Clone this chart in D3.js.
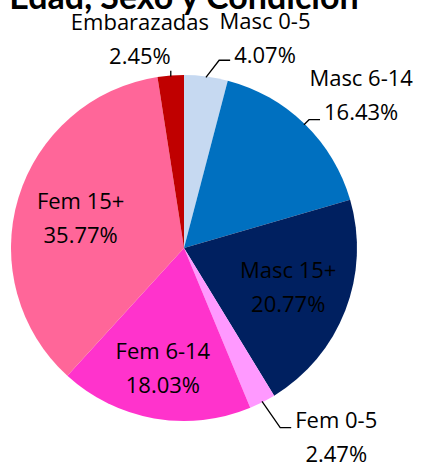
<!DOCTYPE html>
<html>
<head>
<meta charset="utf-8">
<title>Edad, Sexo y Condición</title>
<style>
    body { margin: 0; background: #fff; }
    svg { font-family: "Open Sans", Lato, sans-serif; }
</style>
</head>
<body>
<svg width="425" height="466"></svg>
<script src="https://d3js.org/d3.v7.min.js"></script>
<script>
    // data
    var categories = ["Masc 0-5", "Masc 6-14", "Masc 15+", "Fem 0-5", "Fem 6-14", "Fem 15+", "Embarazadas"];
    var values = [4.07, 16.43, 20.77, 2.47, 18.03, 35.77, 2.45];
    var colors = ["#C6D9F1", "#0070C0", "#002060", "#FF99FF", "#FF33CC", "#FF6699", "#C00000"];

    // label placement: [angle (deg, clockwise from top), radius, leader type]
    var labelPlace = [
        [21.3, 223, "right"],
        [49.5, 233, "right"],
        [111.5, 112, null],
        [141.4, 244, "right1"],
        [189.8, 124, null],
        [285, 107, null],
        [348, 212, "down"]
    ];

    var svg = d3.select("svg"),
        cx = 184, cy = 248, radius = 173,
        fontSize = 22, lineGap = 34;

    svg.append("text")
        .attr("x", cx)
        .attr("y", 9)
        .attr("text-anchor", "middle")
        .style("font-family", "Lato, sans-serif")
        .style("font-weight", "bold")
        .style("font-size", "34px")
        .text("Edad, Sexo y Condición");

    var pie = d3.pie().sort(null).value(function(d) { return d; });
    var arcs = pie(values);
    var arc = d3.arc().innerRadius(0).outerRadius(radius);

    var g = svg.append("g").attr("transform", "translate(" + cx + "," + cy + ")");

    g.selectAll("path")
        .data(arcs)
        .enter().append("path")
        .attr("d", arc)
        .attr("fill", function(d, i) { return colors[i]; });

    function polar(angle, r) {
        var a = angle * Math.PI / 180;
        return [r * Math.sin(a), -r * Math.cos(a)];
    }

    arcs.forEach(function(d, i) {
        var p = polar(labelPlace[i][0], labelPlace[i][1]);
        var base1 = p[1] - lineGap / 2 + 6;
        var t = g.append("text")
            .attr("text-anchor", "middle")
            .style("font-size", fontSize + "px")
            .attr("fill", "#000");
        t.append("tspan").attr("x", p[0]).attr("y", base1).text(categories[i]);
        var t2 = t.append("tspan").attr("x", p[0]).attr("y", base1 + lineGap).text(values[i].toFixed(2) + "%");

        var type = labelPlace[i][2];
        if (!type) return;
        var mid = (d.startAngle + d.endAngle) / 2 * 180 / Math.PI;
        var s = polar(mid, radius - 1);
        var pts;
        if (type === "down") {
            var bb = t.node().getBBox();
            pts = [s, [s[0], bb.y + bb.height + 1]];
        } else {
            var box = (type === "right1" ? t.select("tspan").node() : t2.node()).getBBox();
            var ey = type === "right1" ? base1 : base1 + lineGap - (i === 0 ? 3 : 0);
            var ex = box.x - 4;
            pts = [s, [ex - 11, ey], [ex, ey]];
        }
        g.append("path")
            .attr("d", d3.line()(pts))
            .attr("fill", "none")
            .attr("stroke", "#000")
            .attr("stroke-width", 1.3);
    });
</script>
</body>
</html>
